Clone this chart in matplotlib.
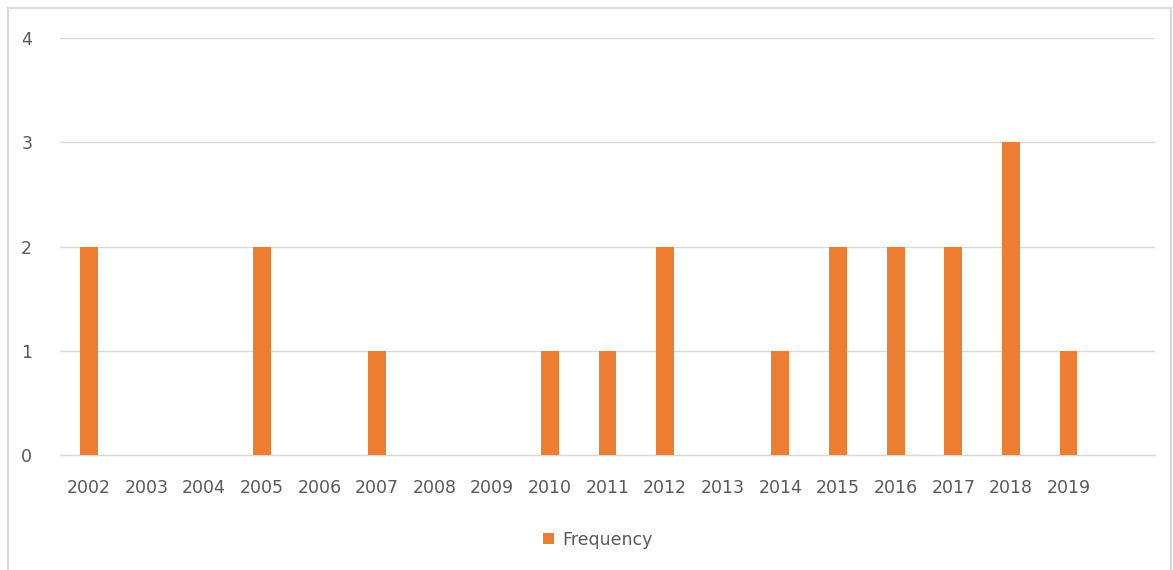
import matplotlib.pyplot as plt
from matplotlib.patches import Rectangle

# yearly counts
years = ['2002', '2003', '2004', '2005', '2006', '2007', '2008', '2009', '2010',
         '2011', '2012', '2013', '2014', '2015', '2016', '2017', '2018', '2019']
frequency = [2, 0, 0, 2, 0, 1, 0, 0, 1, 1, 2, 0, 1, 2, 2, 2, 3, 1]
y_ticks = [0, 1, 2, 3, 4]

orange = '#ED7D31'
grey_text = '#595959'
grid_col = '#D9D9D9'

fig = plt.figure(figsize=(11.73, 5.70), dpi=100)
ax = fig.add_axes([60 / 1173, 1 - 455 / 570, 1095 / 1173, 417 / 570])

x = list(range(len(years)))
ax.bar(x, frequency, width=0.31, color=orange, label='Frequency', zorder=3)

# one empty slot on the right, like the spreadsheet chart
ax.set_xlim(-0.5, len(years) + 0.5)
ax.set_ylim(0, 4)
ax.set_xticks(x)
ax.set_xticklabels(years)
ax.set_yticks(y_ticks)

ax.tick_params(axis='both', length=0, labelsize=12.5, colors=grey_text)
ax.tick_params(axis='x', pad=17)
ax.tick_params(axis='y', pad=20)

ax.grid(axis='y', color=grid_col, linewidth=1, zorder=0)
for side in ['top', 'right', 'left']:
    ax.spines[side].set_visible(False)
ax.spines['bottom'].set_color(grid_col)
ax.spines['bottom'].set_linewidth(1)

leg = fig.legend(loc='center', bbox_to_anchor=(598 / 1173, 1 - 540 / 570),
                 frameon=False, fontsize=12.5, handlelength=0.6, handleheight=0.6,
                 handletextpad=0.5)
for t in leg.get_texts():
    t.set_color(grey_text)

# chart area border
fig.patches.append(Rectangle((8 / 1173, -0.02), 1163 / 1173, 1.02 - 8 / 570,
                             transform=fig.transFigure, fill=False,
                             edgecolor=grid_col, linewidth=1.5))

fig.savefig('out.png', dpi=100)
